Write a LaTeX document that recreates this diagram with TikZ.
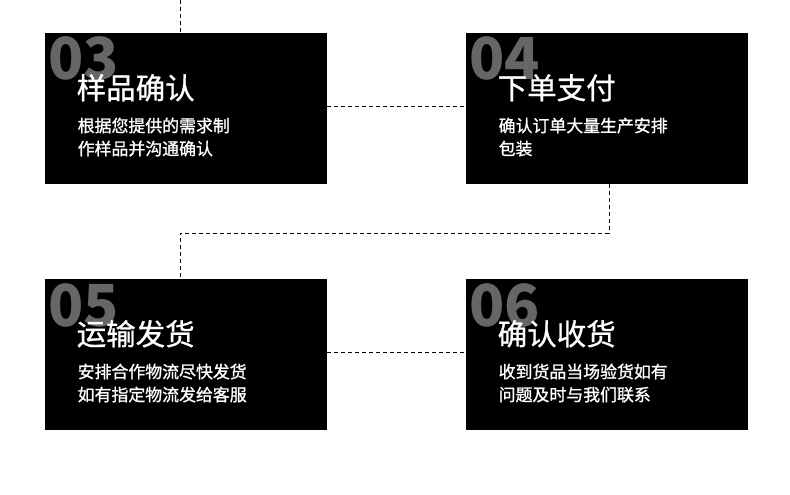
\documentclass[tikz,border=0pt]{standalone}
\usepackage{fontspec}
\setmainfont{Noto Sans CJK SC}
\newfontfamily\cjkmed[FakeBold=0.9]{Noto Sans CJK SC}
\newfontfamily\cjkdesc[FakeBold=1.1]{Noto Sans CJK SC}
\definecolor{numgray}{RGB}{102,102,102}
\tikzset{
  box/.style={fill=black, draw=none, anchor=north west, minimum width=282pt, minimum height=151pt, inner sep=0pt},
  numtxt/.style={anchor=base west, inner sep=0pt, text=numgray, font=\fontsize{58}{58}\selectfont\bfseries},
  titletxt/.style={anchor=base west, inner sep=0pt, text=white, font=\cjkmed\fontsize{29.5}{29.5}\selectfont},
  desctxt/.style={anchor=base west, inner sep=0pt, text=white, font=\cjkdesc\fontsize{16.9}{16.9}\selectfont},
  dashline/.style={draw=black, line width=1pt, dash pattern=on 4pt off 3pt}
}
\begin{document}
\begin{tikzpicture}[x=1pt,y=-1pt]
\useasboundingbox[fill=white] (0,0) rectangle (790,495);
% boxes
\node[box] (b1) at (45,33) {};
\node[box] (b2) at (466,33) {};
\node[box] (b3) at (45,279) {};
\node[box] (b4) at (466,279) {};
% connectors
\coordinate (top) at (180,0);
\draw[dashline] (top) -- (top |- b1.north);
\draw[dashline] (b1.east |- 0,106.5) -- (b2.west |- 0,106.5);
\coordinate (c1) at (609,233.5);
\coordinate (c2) at (180,233.5);
\draw[dashline] (c1 |- b2.south) -- (c1) -- (c2) -- (c2 |- b3.north);
\draw[dashline] (b3.east |- 0,352.5) -- (b4.west |- 0,352.5);
% box 1
\node[numtxt] (n1) at (48,80) {03};
\node[titletxt] (t1) at (76.5,99) {样品确认};
\node[desctxt] (d1a) at (77.5,132) {根据您提供的需求制};
\node[desctxt] (d1b) at (77.5,155) {作样品并沟通确认};
% box 2
\node[numtxt] (n2) at (469,80) {04};
\node[titletxt] (t2) at (497.5,99) {下单支付};
\node[desctxt] (d2a) at (498.5,132) {确认订单大量生产安排};
\node[desctxt] (d2b) at (498.5,155) {包装};
% box 3
\node[numtxt] (n3) at (48,326) {05};
\node[titletxt] (t3) at (76.5,345) {运输发货};
\node[desctxt] (d3a) at (77.5,378) {安排合作物流尽快发货};
\node[desctxt] (d3b) at (77.5,401) {如有指定物流发给客服};
% box 4
\node[numtxt] (n4) at (469,326) {06};
\node[titletxt] (t4) at (497.5,345) {确认收货};
\node[desctxt] (d4a) at (498.5,378) {收到货品当场验货如有};
\node[desctxt] (d4b) at (498.5,401) {问题及时与我们联系};
\end{tikzpicture}
\end{document}
